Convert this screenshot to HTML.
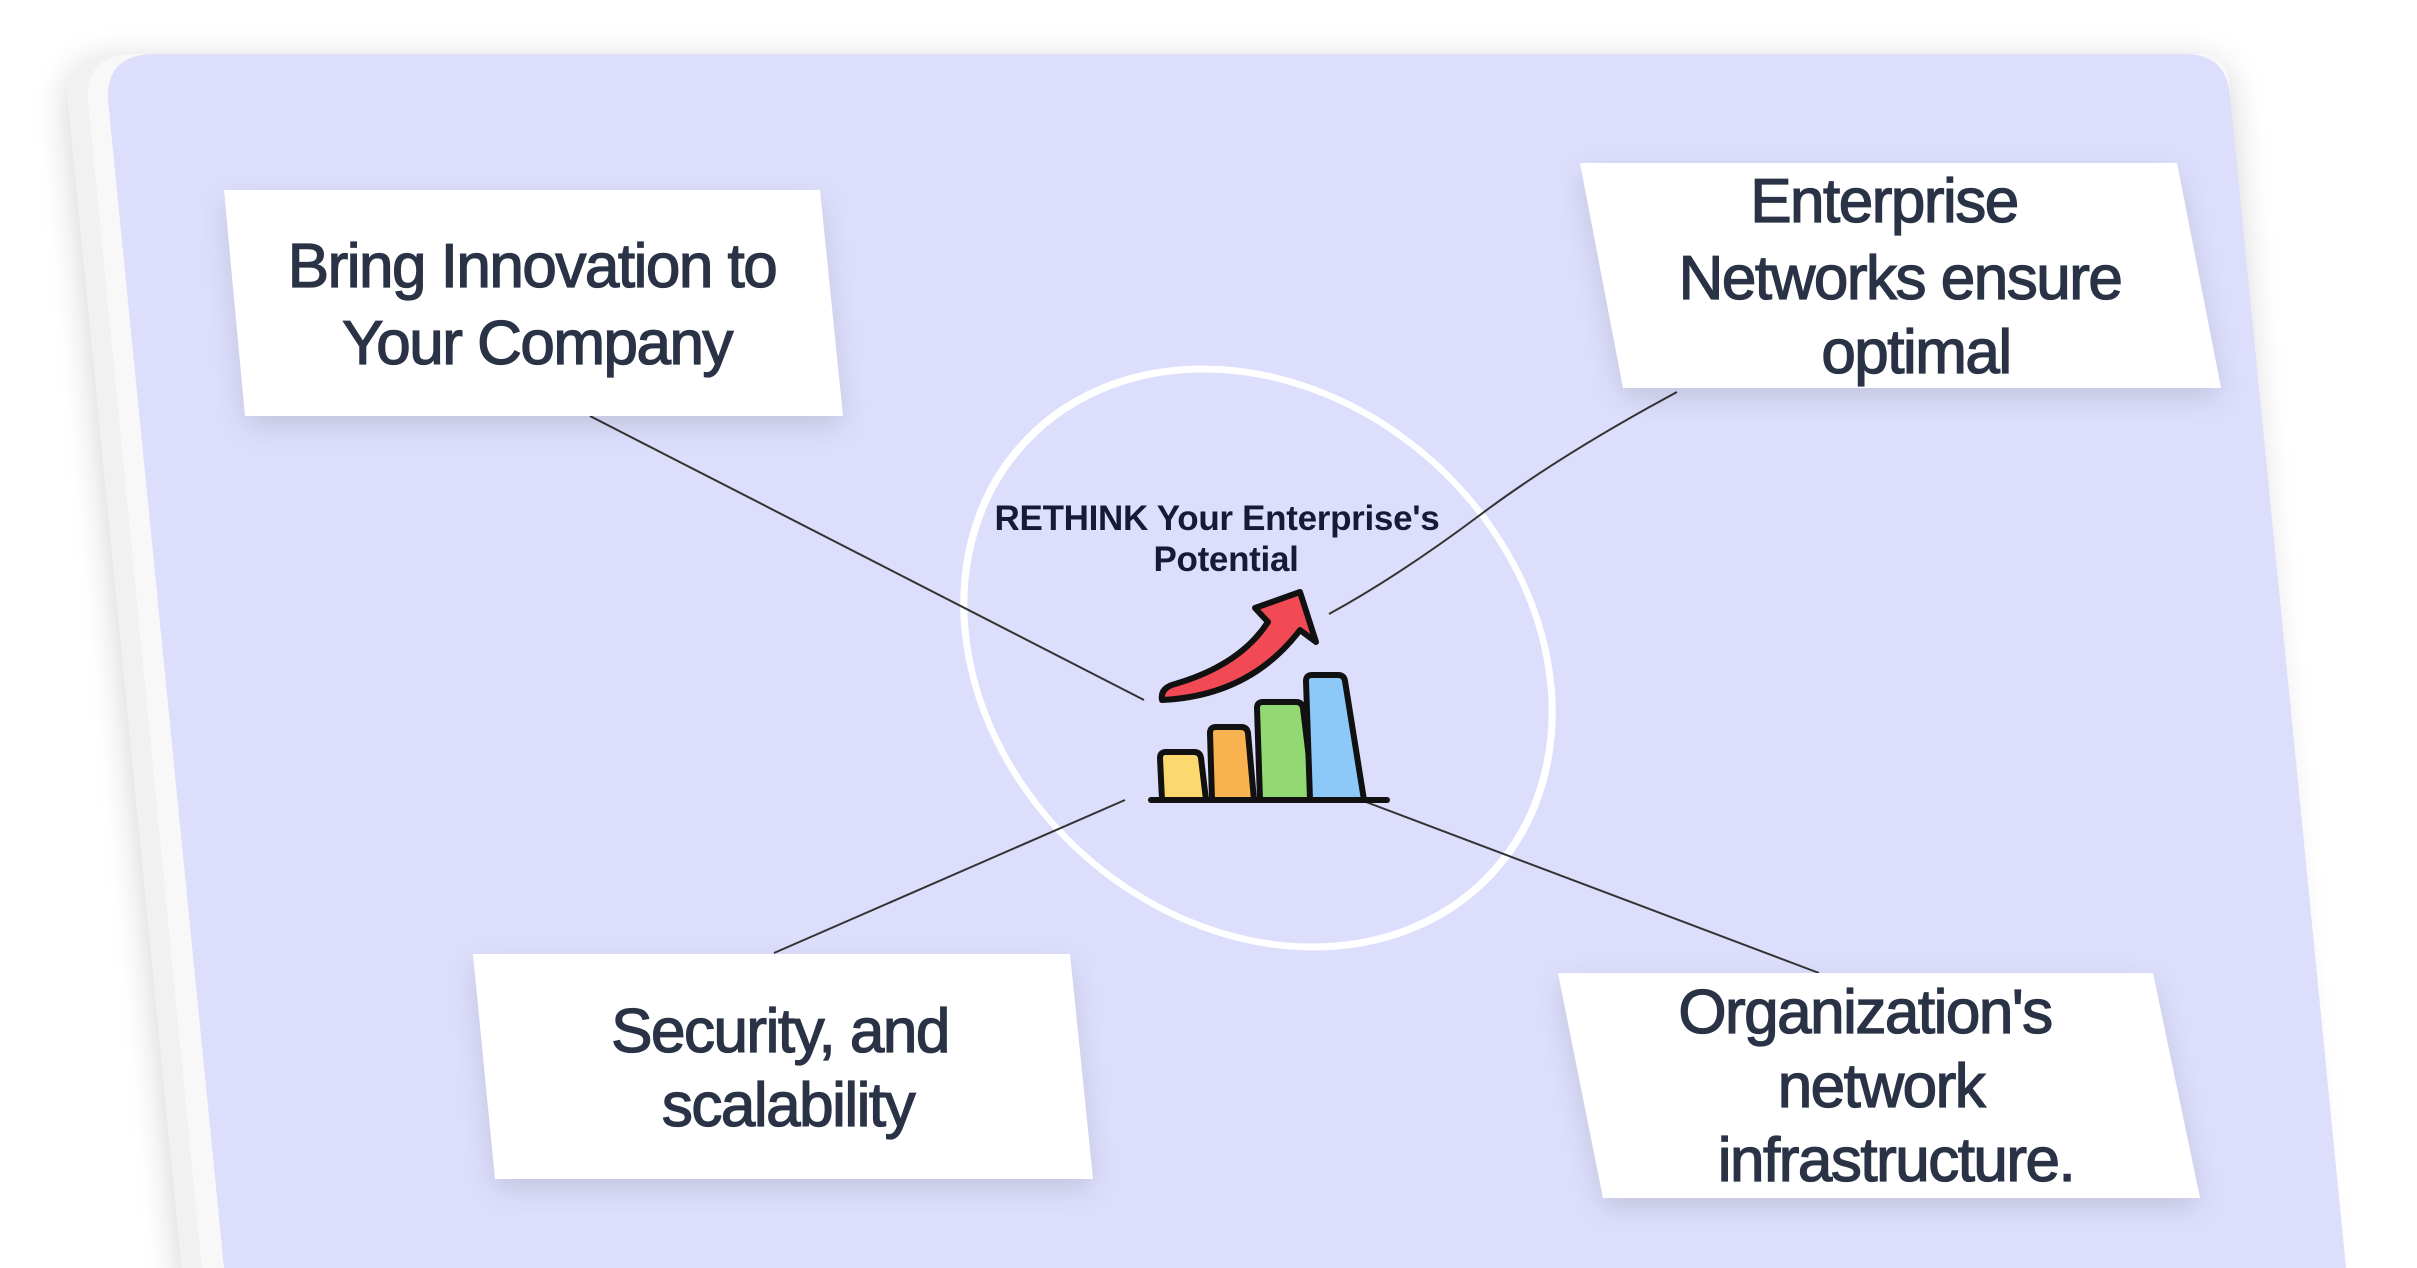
<!DOCTYPE html>
<html><head><meta charset="utf-8"><style>
html,body{margin:0;padding:0;background:#fff;}
svg{display:block}
text{font-family:"Liberation Sans",sans-serif;}
</style></head><body>
<svg width="2417" height="1268" viewBox="0 0 2417 1268" xmlns="http://www.w3.org/2000/svg">
<defs>
<filter id="sh" x="-10%" y="-10%" width="120%" height="130%"><feGaussianBlur in="SourceAlpha" stdDeviation="18"/><feOffset dy="8"/><feComponentTransfer><feFuncA type="linear" slope="0.18"/></feComponentTransfer><feMerge><feMergeNode/><feMergeNode in="SourceGraphic"/></feMerge></filter>
<filter id="bs" x="-10%" y="-10%" width="120%" height="130%"><feGaussianBlur in="SourceAlpha" stdDeviation="14"/><feOffset dy="10"/><feComponentTransfer><feFuncA type="linear" slope="0.12"/></feComponentTransfer><feMerge><feMergeNode/><feMergeNode in="SourceGraphic"/></feMerge></filter>
</defs>
<rect width="2417" height="1268" fill="#fff"/>
<g filter="url(#sh)">
<path d="M115 54 L2190 54 Q2228 54 2230 92 L2300 1290 L184 1290 L68 100 Q66 54 115 54 Z" fill="#f1f1f1"/>
<path d="M134 54 L2200 54 Q2228 54 2230 92 L2320 1290 L204 1290 L88 100 Q86 54 134 54 Z" fill="#f8f8f8"/>
</g>
<path d="M155 54 L2185 54 Q2226 54 2230 95 L2346 1268 L224 1268 L108 100 Q106 54 155 54 Z" fill="#dcdefc"/>
<!-- ellipse -->
<circle r="289" cx="0" cy="0" transform="translate(1258 658) matrix(1 0 0.19 1 0 0)" fill="none" stroke="#fff" stroke-width="7"/>
<!-- connectors -->
<g stroke="#333" stroke-width="2" fill="none">
<line x1="590" y1="416" x2="1144" y2="700"/>
<path d="M1677 392 Q1560 455 1480 515 Q1400 575 1329 614"/>
<line x1="774" y1="953" x2="1125" y2="800"/>
<line x1="1366" y1="802" x2="1819" y2="973"/>
</g>
<!-- boxes -->
<g filter="url(#bs)" fill="#fff">
<polygon points="224,190 820,190 843,416 245,416"/>
<polygon points="1580,163 2177,163 2221,388 1623,388"/>
<polygon points="473,954 1070,954 1093,1179 495,1179"/>
<polygon points="1558,973 2153,973 2200,1198 1603,1198"/>
</g>
<g fill="#2a3346" stroke="#2a3346" stroke-width="1.3" font-size="62" text-anchor="middle" letter-spacing="-1.5">
<text x="532" y="287">Bring Innovation to</text>
<text x="537" y="364">Your Company</text>
<text x="1884" y="222">Enterprise</text>
<text x="1900" y="299">Networks ensure</text>
<text x="1916" y="373">optimal</text>
<text x="780" y="1052">Security, and</text>
<text x="788" y="1126">scalability</text>
<text x="1865" y="1033">Organization's</text>
<text x="1881" y="1107">network</text>
<text x="1896" y="1181">infrastructure.</text>
</g>
<g fill="#161a36" font-size="35" font-weight="bold" text-anchor="middle" letter-spacing="-0.3">
<text x="1217" y="530">RETHINK Your Enterprise's</text>
<text x="1226" y="571">Potential</text>
</g>
<!-- chart icon -->
<g stroke="#111" stroke-width="6" stroke-linejoin="round" stroke-linecap="round">
<path d="M1162 800 L1160 758 Q1160 752 1166 752 L1194 752 Q1200 752 1201 758 L1206 800 Z" fill="#fbd96e"/>
<path d="M1212 800 L1210 733 Q1210 727 1216 727 L1241 727 Q1247 727 1248 733 L1254 800 Z" fill="#f8b24f"/>
<path d="M1260 800 L1257 708 Q1257 702 1263 702 L1296 702 Q1302 702 1303 708 L1314 800 Z" fill="#92d873"/>
<path d="M1310 800 L1306 681 Q1306 675 1312 675 L1338 675 Q1344 675 1345 681 L1364 800 Z" fill="#8cc8f8"/>
<line x1="1151" y1="800" x2="1387" y2="800"/>
<path d="M1162 700 Q1160 688 1175 684 Q1240 665 1268 622 L1255 608 L1300 592 L1316 642 L1300 630 Q1250 696 1162 700 Z" fill="#f24a55"/>
</g>
</svg>
</body></html>
